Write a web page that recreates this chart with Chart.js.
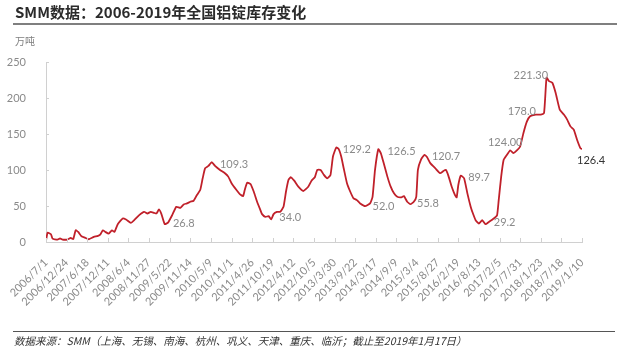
<!DOCTYPE html>
<html>
<head>
<meta charset="utf-8">
<script src="https://cdn.jsdelivr.net/npm/chart.js@4.4.1/dist/chart.umd.min.js"></script>
<style>
  body { margin: 0; background: #fff; }
  #wrap { position: relative; width: 639px; height: 354px; overflow: hidden; }
  #c { position: absolute; left: 0; top: 0; }
  .title { position: absolute; left: 13px; top: 3px; width: 602px; padding-left: 2px; padding-bottom: 2px;
           font: bold 15px/18px "Noto Sans CJK SC", sans-serif; color: #2b2b2b; border-bottom: 2px solid #7f7f7f; }
  .unit { position: absolute; left: 15px; top: 34px; font: 10px/14px "Noto Sans CJK SC", sans-serif; color: #7f7f7f; }
  .rule { position: absolute; left: 13px; top: 331px; width: 602px; height: 1px; background: #555; }
  .src { position: absolute; left: 14px; top: 334px; font: italic 10.5px/14px "Noto Sans CJK SC", sans-serif; color: #333; }
</style>
</head>
<body>
<div id="wrap">
  <canvas id="c" width="639" height="354"></canvas>
  <div class="title">SMM数据：2006-2019年全国铝锭库存变化</div>
  <div class="unit">万吨</div>
  <div class="rule"></div>
  <div class="src">数据来源：SMM（上海、无锡、南海、杭州、巩义、天津、重庆、临沂；截止至2019年1月17日）</div>
</div>
<script>
// x = week count since 2006/7/1, one tick label every 25 weeks
const tickLabels = ['2006/7/1','2006/12/24','2007/6/18','2007/12/11','2008/6/4','2008/11/27','2009/5/22',
  '2009/11/14','2010/5/9','2010/11/1','2011/4/26','2011/10/19','2012/4/12','2012/10/5','2013/3/30',
  '2013/9/22','2014/3/17','2014/9/9','2015/3/4','2015/8/27','2016/2/19','2016/8/13','2017/2/5',
  '2017/7/31','2018/1/23','2018/7/18','2019/1/10'];

const weeks = [0,2,6,8,14,17,20,26,30,33,36,39,43,48,52,58,63,66,69,72,76,80,83,87,93,97,103,107,113,119,
  123,127,131,134,137,140,144,148,153,158,163,167,171,175,179,183,187,190,193,197,201,205,211,217,221,225,
  231,235,239,241,244,248,252,256,260,262,266,270,273,276,280,284,288,291,294,297,301,306,312,318,322,326,
  329,333,337,341,345,348,352,355,358,361,365,369,373,377,381,387,393,396,399,403,406,409,414,418,422,426,
  431,434,438,442,446,449,451,455,459,462,466,472,478,482,485,488,492,496,498,500,503,507,511,515,517,521,
  525,529,533,537,543,547,549,552,555,559,563,567,571,575,579,583,587,594,600,604,607,610,614,618,623,628,
  632,636,640,644,648,650];

const stock = [2,13,10.7,4.7,3.4,5,3.4,3.4,5.6,4,16.3,14,8,5.6,3.8,7,8.4,10.7,16.3,14,11.7,16.3,14,24.7,32.7,
  31.3,26.5,30.3,37.3,41.9,39.6,41.9,40.5,39.6,45.2,38.7,24.7,27,37.3,48.9,47.5,52.2,53.6,55.9,57.3,65.2,72.2,
  88.5,102.5,105.7,110.9,105.7,100.1,95.5,90.8,81.6,72.2,66.6,63.8,72.2,82.4,80.6,69.8,55.9,44.3,38.7,34.9,35.9,
  31.3,38.7,41.9,41.9,48.9,69.8,86.2,89.9,85.2,76.8,70.8,76.8,85.2,89.9,100.1,100.1,93.2,88.5,93.2,118.7,131.3,
  129,118.7,102.5,81.6,69.8,60.6,58.2,53.6,49.9,53.6,62.8,100.1,129,123.5,111.7,90.8,76.8,67.6,62.8,62,63.8,
  55.9,52.6,55.9,62.8,100.1,115,121.1,117.9,109.5,102.5,95.5,98.7,100.1,91.8,76.8,65.2,62,79.2,92.2,88.5,67.6,
  48.9,41.9,30.3,25.7,30.3,24.7,27.9,32.7,37.3,58.2,90.8,114.1,121.1,127.1,123.5,127.1,132.7,151.4,166.8,174.6,
  177,177,179.3,228.2,223.5,221.2,207.3,183.9,177,170,160.6,156,142,130.4,129];

// callout texts, anchored at (week, level) of their left edge
const noteTexts = ['26.8','109.3','34.0','129.2','52.0','126.5','55.8','120.7','89.7','29.2','124.00','178.0','221.30','126.4'];
const noteWeeks = [154,211,283,360,396,414,450,468,512,543,536,560,567,644];
const noteLevels = [26,108,33.5,128,50,125.3,54,118.3,89,27.4,138,181,231.4,112.7];

const notes = {
  id: 'notes',
  afterDatasetsDraw(chart) {
    const { ctx, scales: { x, y } } = chart;
    ctx.save();
    ctx.font = '11px Lato';
    ctx.textAlign = 'left';
    ctx.textBaseline = 'middle';
    noteTexts.forEach((t, i) => {
      ctx.fillStyle = i === noteTexts.length - 1 ? '#333' : '#8a8a8a';
      ctx.fillText(t, x.getPixelForValue(noteWeeks[i]), y.getPixelForValue(noteLevels[i]));
    });
    // inward tick marks
    ctx.strokeStyle = '#d0d0d0';
    ctx.lineWidth = 1;
    ctx.beginPath();
    for (let i = 0; i < tickLabels.length; i++) {
      const px = Math.round(x.getPixelForValue(i * 25)) + 0.5;
      ctx.moveTo(px, y.bottom);
      ctx.lineTo(px, y.bottom - 4);
    }
    for (let v = 0; v <= 250; v += 50) {
      const py = Math.round(y.getPixelForValue(v)) + 0.5;
      ctx.moveTo(x.left, py);
      ctx.lineTo(x.left + 3, py);
    }
    ctx.stroke();
    ctx.restore();
  }
};

new Chart(document.getElementById('c'), {
  type: 'line',
  data: {
    datasets: [{
      data: weeks.map((w, i) => ({ x: w, y: stock[i] })),
      borderColor: '#c0202a',
      borderWidth: 1.8,
      pointRadius: 0,
      tension: 0.15
    }]
  },
  options: {
    responsive: false,
    devicePixelRatio: 1,
    animation: false,
    layout: { padding: { top: 62, right: 57, left: 0, bottom: 0 } },
    plugins: { legend: { display: false }, tooltip: { enabled: false } },
    scales: {
      x: {
        type: 'linear',
        min: 0,
        max: 650,
        afterFit: s => { s.height = 112; },
        afterBuildTicks: s => { s.ticks = tickLabels.map((_, i) => ({ value: i * 25 })); },
        grid: { display: false },
        border: { color: '#d0d0d0' },
        ticks: {
          autoSkip: false,
          maxRotation: 45,
          minRotation: 45,
          padding: 6,
          color: '#8a8a8a',
          font: { family: 'Lato', size: 11 },
          callback: v => tickLabels[Math.round(v / 25)]
        }
      },
      y: {
        min: 0,
        max: 250,
        afterFit: s => { s.width = 46; },
        grid: { display: false },
        border: { color: '#d0d0d0' },
        ticks: {
          stepSize: 50,
          padding: 12,
          color: '#8a8a8a',
          font: { family: 'Lato', size: 11 }
        }
      }
    }
  },
  plugins: [notes]
});
</script>
</body>
</html>
